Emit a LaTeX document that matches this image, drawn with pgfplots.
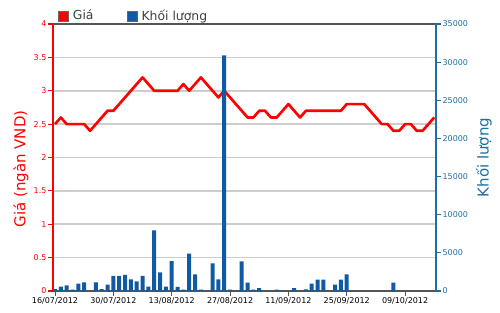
\documentclass[border=0pt]{standalone}
\usepackage{pgfplots}
\usepackage{pgfplotstable}
\pgfplotsset{compat=1.18}
\usepackage{fontspec}
\setmainfont{DejaVu Sans}
\definecolor{barblue}{RGB}{16,90,165}
\definecolor{axblue}{RGB}{30,110,160}
\definecolor{gridgray}{RGB}{205,205,205}
\definecolor{darkax}{RGB}{85,85,85}

\pgfplotstableread{
x p
0 2.5
1 2.6
2 2.5
3 2.5
4 2.5
5 2.5
6 2.4
7 2.5
8 2.6
9 2.7
10 2.7
11 2.8
12 2.9
13 3.0
14 3.1
15 3.2
16 3.1
17 3.0
18 3.0
19 3.0
20 3.0
21 3.0
22 3.1
23 3.0
24 3.1
25 3.2
26 3.1
27 3.0
28 2.9
29 3.0
30 2.9
31 2.8
32 2.7
33 2.6
34 2.6
35 2.7
36 2.7
37 2.6
38 2.6
39 2.7
40 2.8
41 2.7
42 2.6
43 2.7
44 2.7
45 2.7
46 2.7
47 2.7
48 2.7
49 2.7
50 2.8
51 2.8
52 2.8
53 2.8
54 2.7
55 2.6
56 2.5
57 2.5
58 2.4
59 2.4
60 2.5
61 2.5
62 2.4
63 2.4
64 2.5
65 2.6
}\pricedata

\pgfplotstableread{
x v
0 260
1 570
2 740
3 180
4 960
5 1140
7 1140
8 260
9 830
10 1970
11 1970
12 2100
13 1530
14 1270
15 1970
16 570
17 7950
18 2450
19 570
20 3920
21 540
22 180
23 4890
24 2190
25 180
27 3630
28 1530
29 30900
30 180
32 3900
33 1090
34 180
35 390
38 180
41 380
43 220
44 960
45 1490
46 1490
48 830
49 1490
50 2190
58 1090
}\voldata

\begin{document}
\begin{tikzpicture}
\useasboundingbox (-39.75pt,-15.75pt) rectangle (335.25pt,218.25pt);
\begin{axis}[
  at={(0,0)}, anchor=south west, scale only axis,
  width=287.25pt, height=200.25pt,
  xmin=-0.35, xmax=65.3, ymin=0, ymax=4,
  axis y line*=left, axis x line*=bottom,
  ytick={0,0.5,...,4},
  ymajorgrids, grid style={gridgray, line width=1.2pt},
  xtick={0,10,...,60},
  xticklabels={16/07/2012,30/07/2012,13/08/2012,27/08/2012,11/09/2012,25/09/2012,09/10/2012},
  tick align=outside, major tick length=3.75pt,
  x axis line style={darkax, line width=1.1pt, -},
  y axis line style={red, line width=0.8pt, -},
  xtick style={darkax, line width=0.8pt},
  ytick style={red, line width=0.8pt},
  /pgf/number format/assume math mode=true,
  ticklabel style={font=\fontsize{6}{7}\selectfont},
  yticklabel style={red, inner sep=1pt},
  xticklabel style={black, inner sep=1pt},
  ylabel={Giá (ngàn VND)},
  ylabel style={at={(axis description cs:-0.0836,0.457)}, anchor=center, red, font=\fontsize{11.25}{13}\selectfont},
]
\addplot[red, line width=2pt, line join=round, mark=none] table[x=x,y=p]{\pricedata};
\end{axis}
\begin{axis}[
  at={(0,0)}, anchor=south west, scale only axis,
  width=287.25pt, height=200.25pt,
  xmin=-0.35, xmax=65.3, ymin=0, ymax=35000,
  axis y line*=right, axis x line*=top,
  xtick=\empty,
  ytick={0,5000,...,35000},
  scaled y ticks=false,
  /pgf/number format/1000 sep={},
  /pgf/number format/assume math mode=true,
  tick align=outside, major tick length=3.75pt,
  y axis line style={axblue, line width=0.8pt, -},
  x axis line style={darkax, line width=1.1pt, -},
  ytick style={axblue, line width=0.8pt},
  yticklabel style={axblue, font=\fontsize{6}{7}\selectfont, inner sep=1pt},
  ylabel={Khối lượng},
  ylabel style={at={(axis description cs:1.125,0.5)}, anchor=center, axblue, font=\fontsize{11.25}{13}\selectfont},
  legend style={at={(axis description cs:0.013,1.03)}, anchor=west, draw=none, fill=none, inner sep=0pt,
    font=\fontsize{9.3}{11}\selectfont, text=black!75,
    nodes={inner xsep=3pt, inner ysep=1pt},
    /tikz/every even column/.append style={column sep=22pt}},
  legend columns=2,
]
\addlegendimage{legend image code/.code={\draw[fill=red, draw=black!60, line width=0.5pt] (0pt,-3.75pt) rectangle (7.5pt,3.75pt);}}
\addlegendentry{Giá}
\addplot[ybar, bar width=3pt, fill=barblue, draw=none,
  legend image code/.code={\draw[fill=barblue, draw=black!60, line width=0.5pt] (0pt,-3.75pt) rectangle (7.5pt,3.75pt);}]
  table[x=x,y=v]{\voldata};
\addlegendentry{Khối lượng}
\end{axis}
\end{tikzpicture}
\end{document}
